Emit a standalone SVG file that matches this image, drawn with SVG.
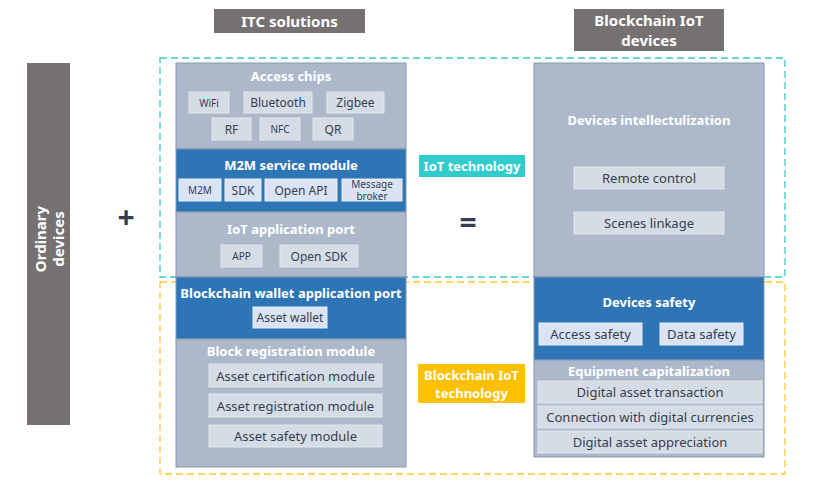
<svg xmlns="http://www.w3.org/2000/svg" width="820" height="490" viewBox="0 0 820 490">
<style>
text{font-family:"Noto Sans","Open Sans","Liberation Sans",sans-serif;text-anchor:middle;dominant-baseline:central}
.hdr{fill:#767171}
.hdrt{fill:#fff;font-weight:bold;font-size:15px}
.col{fill:#ADB9CA;stroke:#8497B0;stroke-width:1}
.blue{fill:#2E75B6;stroke:#8497B0;stroke-width:1}
.sec{fill:#fff;font-weight:bold;font-size:13px}
.ib{fill:#D6DCE5;stroke:#E4E8EE;stroke-width:1}
.ibb{fill:#DAE3F3;stroke:#E9EEF7;stroke-width:1}
.it{fill:#333F50;font-size:13px}
.sm{fill:#333F50;font-size:10px}
.md{fill:#333F50;font-size:12px}
</style>

<g id="frames">
<rect x="160" y="58" width="625" height="219" fill="none" stroke="#3CC8C8" stroke-width="1.3" stroke-dasharray="7,4"/>
<rect x="160" y="282" width="625" height="192" fill="none" stroke="#FFC830" stroke-width="1.3" stroke-dasharray="7,4"/>
</g>

<g id="ordinary-devices">
<rect x="27" y="63" width="43" height="362" class="hdr"/>
<text transform="translate(48.5,239) rotate(-90)" class="hdrt" font-size="14"><tspan x="0" dy="-9">Ordinary</tspan><tspan x="0" dy="18">devices</tspan></text>
</g>

<g id="plus"><text x="126" y="216" font-size="30" fill="#333F50" font-weight="bold">+</text></g>
<g id="equals"><text x="468" y="221" font-size="30" fill="#333F50" font-weight="bold">=</text></g>

<g id="itc-header">
<rect x="214" y="9" width="151" height="24" class="hdr"/>
<text x="289.5" y="21" class="hdrt">ITC solutions</text>
</g>

<g id="bc-header">
<rect x="574" y="9" width="150" height="42" class="hdr"/>
<text x="649" y="20" class="hdrt">Blockchain IoT</text>
<text x="649" y="40" class="hdrt">devices</text>
</g>

<g id="access-chips">
<rect x="176" y="63" width="230" height="86" class="col"/>
<text x="291" y="76" class="sec">Access chips</text>
<rect x="189" y="92" width="40" height="21" class="ib"/><text x="209" y="102.5" class="sm">WiFi</text>
<rect x="244" y="92" width="68" height="21" class="ib"/><text x="278" y="102.5" class="md">Bluetooth</text>
<rect x="327" y="92" width="57" height="21" class="ib"/><text x="355.5" y="102.5" class="md">Zigbee</text>
<rect x="212" y="118" width="39" height="22" class="ib"/><text x="231.5" y="129" class="md">RF</text>
<rect x="260" y="118" width="40" height="22" class="ib"/><text x="280" y="129" class="sm">NFC</text>
<rect x="313" y="118" width="40" height="22" class="ib"/><text x="333" y="129" class="md">QR</text>
</g>

<g id="m2m">
<rect x="176" y="149" width="230" height="63" class="blue"/>
<text x="291" y="165" class="sec">M2M service module</text>
<rect x="179" y="179" width="42" height="22" class="ibb"/><text x="200" y="190" class="sm">M2M</text>
<rect x="225" y="179" width="36" height="22" class="ibb"/><text x="243" y="190" class="md">SDK</text>
<rect x="265" y="179" width="72" height="22" class="ibb"/><text x="301" y="190" class="md">Open API</text>
<rect x="342" y="179" width="60" height="22" class="ibb"/><text x="372" y="183.5" class="sm">Message</text><text x="372" y="196" class="sm">broker</text>
</g>

<g id="iot-app-port">
<rect x="176" y="212" width="230" height="65" class="col"/>
<text x="291" y="229" class="sec">IoT application port</text>
<rect x="221" y="245" width="41" height="22" class="ib"/><text x="241.5" y="256" class="sm">APP</text>
<rect x="280" y="245" width="78" height="22" class="ib"/><text x="319" y="256" class="md">Open SDK</text>
</g>

<g id="wallet-port">
<rect x="176" y="277" width="230" height="62" class="blue"/>
<text x="291" y="293" class="sec">Blockchain wallet application port</text>
<rect x="253" y="307" width="74" height="21" class="ibb"/><text x="290" y="317.5" class="md">Asset wallet</text>
</g>

<g id="block-registration">
<rect x="176" y="339" width="230" height="128" class="col"/>
<text x="291" y="351" class="sec">Block registration module</text>
<rect x="209" y="364" width="173" height="23" class="ib"/><text x="295.5" y="375.5" class="it">Asset certification module</text>
<rect x="209" y="394" width="173" height="23" class="ib"/><text x="295.5" y="405.5" class="it">Asset registration module</text>
<rect x="209" y="425" width="173" height="22" class="ib"/><text x="295.5" y="436" class="it">Asset safety module</text>
</g>

<g id="iot-technology">
<rect x="419" y="155" width="106" height="22" fill="#33CCCC"/>
<text x="472" y="166" class="sec">IoT technology</text>
</g>

<g id="bc-iot-technology">
<rect x="418" y="364" width="107" height="39" fill="#FFC000"/>
<text x="471.5" y="375" class="sec">Blockchain IoT</text>
<text x="471.5" y="393" class="sec">technology</text>
</g>

<g id="intellectualization">
<rect x="534" y="63" width="230" height="214" class="col"/>
<text x="649" y="120" class="sec">Devices intellectulization</text>
<rect x="574" y="167" width="150" height="22" class="ib"/><text x="649" y="178" class="it">Remote control</text>
<rect x="574" y="212" width="150" height="22" class="ib"/><text x="649" y="223" class="it">Scenes linkage</text>
</g>

<g id="devices-safety">
<rect x="534" y="277" width="230" height="83" class="blue"/>
<text x="649" y="302" class="sec">Devices safety</text>
<rect x="539" y="323" width="103" height="22" class="ibb"/><text x="590.5" y="334" class="it">Access safety</text>
<rect x="660" y="323" width="83" height="22" class="ibb"/><text x="701.5" y="334" class="it">Data safety</text>
</g>

<g id="capitalization">
<rect x="534" y="360" width="230" height="97" class="col"/>
<text x="649" y="371" class="sec">Equipment capitalization</text>
<rect x="538" y="381" width="224" height="22" class="ib"/><text x="650" y="392" class="it">Digital asset transaction</text>
<rect x="538" y="406" width="224" height="22" class="ib"/><text x="650" y="417" class="it">Connection with digital currencies</text>
<rect x="538" y="431" width="224" height="22" class="ib"/><text x="650" y="442" class="it">Digital asset appreciation</text>
</g>

<g id="connectors"></g>
</svg>
